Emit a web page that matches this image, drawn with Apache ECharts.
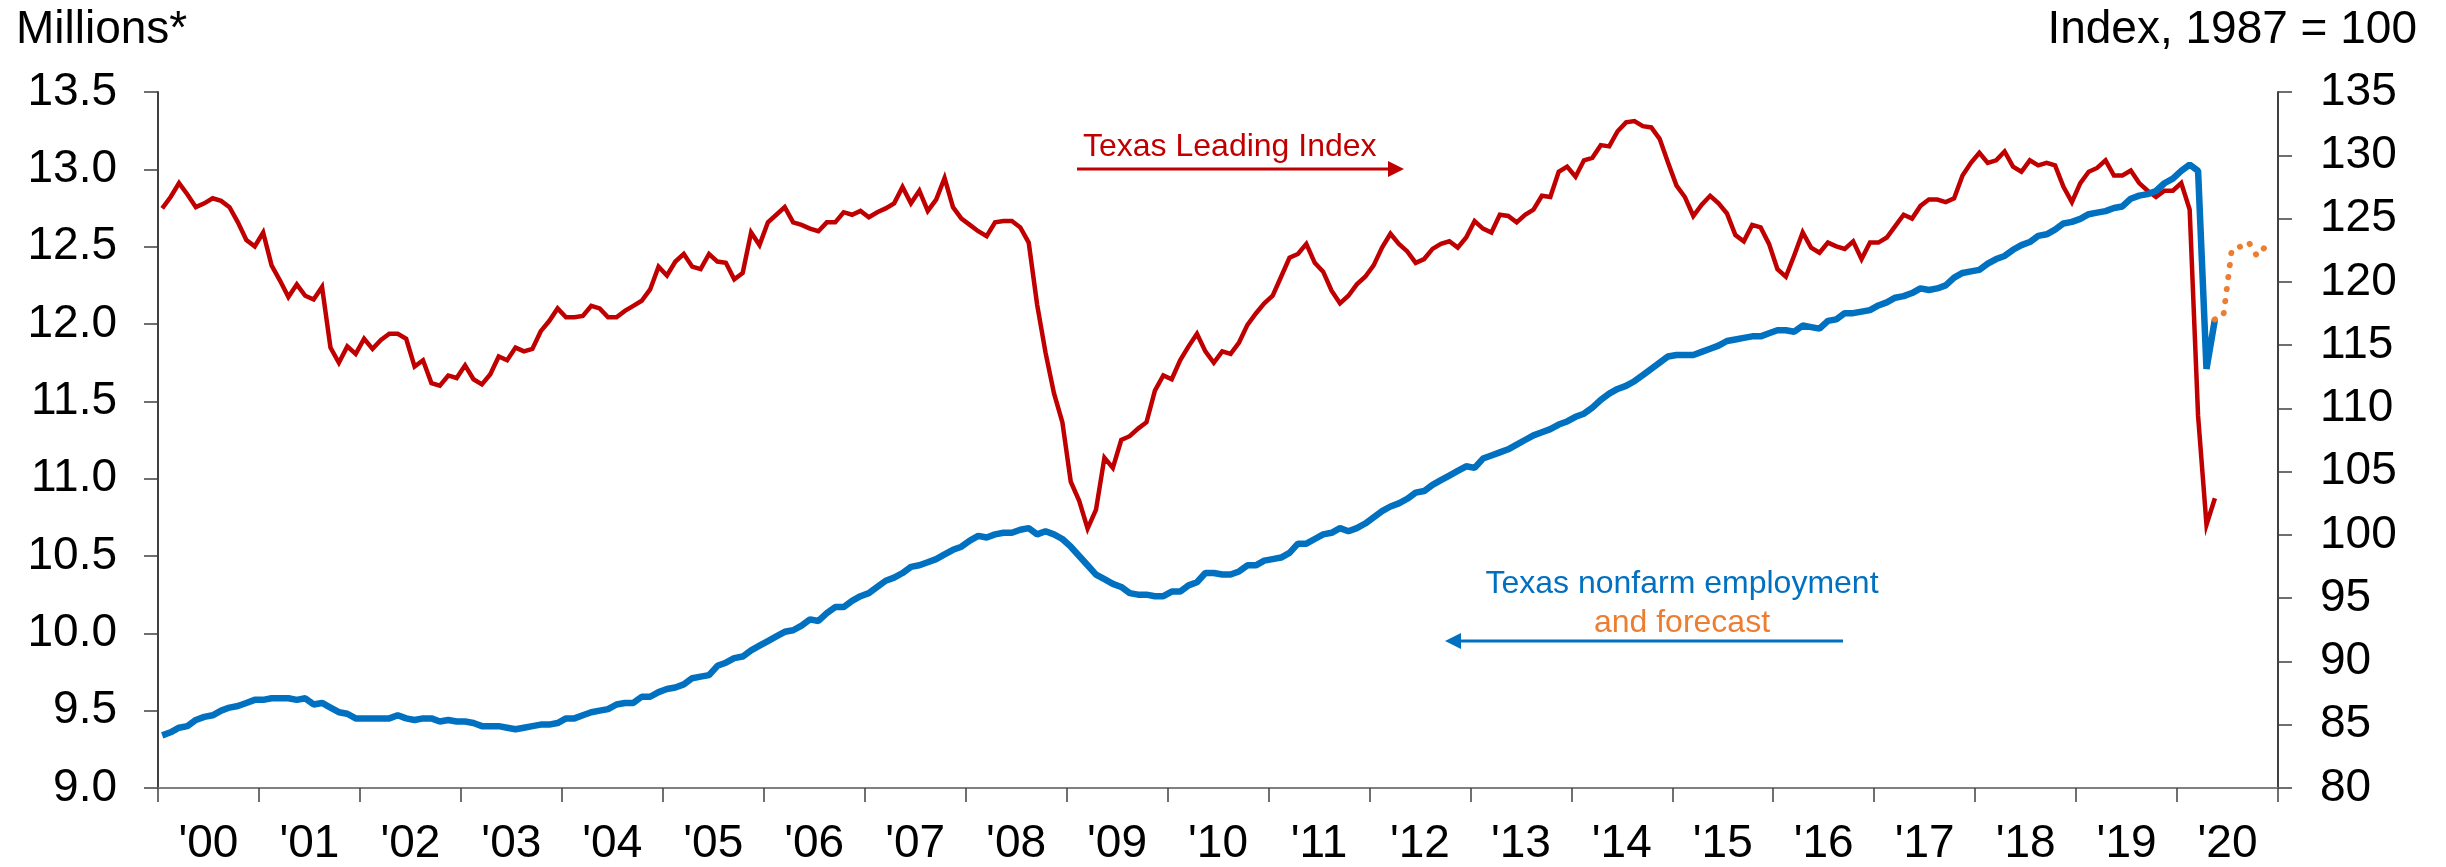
<!DOCTYPE html>
<html>
<head>
<meta charset="utf-8">
<title>Texas employment and leading index</title>
<script src="https://cdn.jsdelivr.net/npm/echarts@6.0.0/dist/echarts.min.js"></script>
<style>
  html, body { margin: 0; padding: 0; background: #fff; }
  #chart { width: 2446px; height: 867px; }
</style>
</head>
<body>
<div id="chart"></div>
<script>
// tick labels for the year axis
const yearLabels = ["'00", "'01", "'02", "'03", "'04", "'05", "'06", "'07", "'08", "'09", "'10",
  "'11", "'12", "'13", "'14", "'15", "'16", "'17", "'18", "'19", "'20"];

// monthly categories, Jan 2000 .. Dec 2020
const months = [];
for (let y = 2000; y <= 2020; y++) {
  for (let m = 1; m <= 12; m++) months.push(y + '-' + m);
}

// Texas Leading Index (right axis, 1987 = 100), Jan 2000 .. May 2020
const leadingIndex = [
  125.8, 126.7, 127.8, 126.9, 125.9, 126.2, 126.6, 126.4, 125.9, 124.7, 123.3, 122.8,
  123.9, 121.3, 120.1, 118.8, 119.8, 118.9, 118.6, 119.6, 114.8, 113.6, 114.9, 114.3,
  115.5, 114.7, 115.4, 115.9, 115.9, 115.5, 113.3, 113.8, 112.0, 111.8, 112.6, 112.4,
  113.4, 112.3, 111.9, 112.7, 114.1, 113.8, 114.8, 114.5, 114.7, 116.1, 116.9, 117.9,
  117.2, 117.2, 117.3, 118.1, 117.9, 117.2, 117.2, 117.7, 118.1, 118.5, 119.4, 121.2,
  120.5, 121.6, 122.2, 121.2, 121.0, 122.2, 121.6, 121.5, 120.2, 120.7, 123.9, 122.9,
  124.7, 125.3, 125.9, 124.7, 124.5, 124.2, 124.0, 124.7, 124.7, 125.5, 125.3, 125.6,
  125.1, 125.5, 125.8, 126.2, 127.5, 126.2, 127.2, 125.6, 126.5, 128.2, 125.9, 125.0,
  124.5, 124.0, 123.6, 124.7, 124.8, 124.8, 124.3, 123.1, 118.2, 114.4, 111.2, 108.9,
  104.2, 102.7, 100.5, 102.0, 106.1, 105.3, 107.5, 107.8, 108.4, 108.9, 111.4, 112.6,
  112.3, 113.8, 114.9, 115.9, 114.5, 113.6, 114.5, 114.3, 115.2, 116.6, 117.5, 118.3,
  118.9, 120.4, 121.9, 122.2, 123.0, 121.5, 120.8, 119.3, 118.3, 118.9, 119.8, 120.4,
  121.3, 122.7, 123.8, 123.0, 122.4, 121.5, 121.8, 122.6, 123.0, 123.2, 122.7, 123.5,
  124.8, 124.2, 123.9, 125.3, 125.2, 124.7, 125.3, 125.7, 126.8, 126.7, 128.7, 129.1,
  128.3, 129.6, 129.8, 130.8, 130.7, 131.9, 132.6, 132.7, 132.3, 132.2, 131.3, 129.4,
  127.6, 126.7, 125.2, 126.1, 126.8, 126.2, 125.4, 123.7, 123.2, 124.5, 124.3, 123.0,
  121.0, 120.4, 122.1, 123.9, 122.7, 122.3, 123.1, 122.8, 122.6, 123.2, 121.8, 123.1,
  123.1, 123.5, 124.4, 125.3, 125.0, 126.0, 126.5, 126.5, 126.3, 126.6, 128.4, 129.4,
  130.2, 129.4, 129.6, 130.3, 129.1, 128.7, 129.6, 129.2, 129.4, 129.2, 127.5, 126.3,
  127.8, 128.7, 129.0, 129.6, 128.4, 128.4, 128.8, 127.8, 127.2, 126.7, 127.2, 127.2,
  127.8, 125.7, 109.4, 100.8, 102.9
];

// Texas nonfarm employment, millions (left axis), Jan 2000 .. May 2020
const employment = [
  9.34, 9.36, 9.39, 9.40, 9.44, 9.46, 9.47, 9.50, 9.52, 9.53, 9.55, 9.57,
  9.57, 9.58, 9.58, 9.58, 9.57, 9.58, 9.54, 9.55, 9.52, 9.49, 9.48, 9.45,
  9.45, 9.45, 9.45, 9.45, 9.47, 9.45, 9.44, 9.45, 9.45, 9.43, 9.44, 9.43,
  9.43, 9.42, 9.40, 9.40, 9.40, 9.39, 9.38, 9.39, 9.40, 9.41, 9.41, 9.42,
  9.45, 9.45, 9.47, 9.49, 9.50, 9.51, 9.54, 9.55, 9.55, 9.59, 9.59, 9.62,
  9.64, 9.65, 9.67, 9.71, 9.72, 9.73, 9.79, 9.81, 9.84, 9.85, 9.89, 9.92,
  9.95, 9.98, 10.01, 10.02, 10.05, 10.09, 10.08, 10.13, 10.17, 10.17, 10.21, 10.24,
  10.26, 10.30, 10.34, 10.36, 10.39, 10.43, 10.44, 10.46, 10.48, 10.51, 10.54, 10.56,
  10.60, 10.63, 10.62, 10.64, 10.65, 10.65, 10.67, 10.68, 10.64, 10.66, 10.64, 10.61,
  10.56, 10.50, 10.44, 10.38, 10.35, 10.32, 10.30, 10.26, 10.25, 10.25, 10.24, 10.24,
  10.27, 10.27, 10.31, 10.33, 10.39, 10.39, 10.38, 10.38, 10.40, 10.44, 10.44, 10.47,
  10.48, 10.49, 10.52, 10.58, 10.58, 10.61, 10.64, 10.65, 10.68, 10.66, 10.68, 10.71,
  10.75, 10.79, 10.82, 10.84, 10.87, 10.91, 10.92, 10.96, 10.99, 11.02, 11.05, 11.08,
  11.07, 11.13, 11.15, 11.17, 11.19, 11.22, 11.25, 11.28, 11.30, 11.32, 11.35, 11.37,
  11.40, 11.42, 11.46, 11.51, 11.55, 11.58, 11.60, 11.63, 11.67, 11.71, 11.75, 11.79,
  11.80, 11.80, 11.80, 11.82, 11.84, 11.86, 11.89, 11.90, 11.91, 11.92, 11.92, 11.94,
  11.96, 11.96, 11.95, 11.99, 11.98, 11.97, 12.02, 12.03, 12.07, 12.07, 12.08, 12.09,
  12.12, 12.14, 12.17, 12.18, 12.20, 12.23, 12.22, 12.23, 12.25, 12.30, 12.33, 12.34,
  12.35, 12.39, 12.42, 12.44, 12.48, 12.51, 12.53, 12.57, 12.58, 12.61, 12.65, 12.66,
  12.68, 12.71, 12.72, 12.73, 12.75, 12.76, 12.81, 12.83, 12.84, 12.86, 12.91, 12.94,
  12.99, 13.03, 12.99, 11.71, 12.03
];

// employment forecast, May 2020 .. Nov 2020
const forecastStart = '2020-5';
const forecast = [12.03, 12.05, 12.48, 12.50, 12.53, 12.44, 12.50];

const forecastData = months.map(function () { return null; });
const fStart = months.indexOf(forecastStart);
forecast.forEach(function (v, k) { forecastData[fStart + k] = v; });

const FONT = '"Liberation Sans", Arial, sans-serif';
const RED = '#C00000';
const BLUE = '#0070C0';
const ORANGE = '#ED7D31';

const myChart = echarts.init(document.getElementById('chart'));

const option = {
  animation: false,
  backgroundColor: '#fff',
  grid: { left: 158, right: 168, top: 92, bottom: 78, containLabel: false },
  xAxis: [
    {
      type: 'category',
      data: months,
      boundaryGap: true,
      position: 'bottom',
      show: false
    },
    {
      type: 'category',
      data: yearLabels,
      boundaryGap: true,
      position: 'bottom',
      axisLine: { show: true, lineStyle: { color: '#808080', width: 2 } },
      axisTick: { show: true, length: 14, lineStyle: { color: '#404040', width: 1.5 } },
      axisLabel: { show: true, margin: 33, color: '#000', fontSize: 46, fontFamily: FONT, interval: 0 },
      splitLine: { show: false }
    }
  ],
  yAxis: [
    {
      type: 'value',
      position: 'left',
      min: 9, max: 13.5, interval: 0.5,
      axisLine: { show: true, lineStyle: { color: '#404040', width: 2 } },
      axisTick: { show: true, length: 14, lineStyle: { color: '#404040', width: 1.5 } },
      axisLabel: {
        margin: 41, color: '#000', fontSize: 46, fontFamily: FONT,
        formatter: function (v) { return v.toFixed(1); }
      },
      splitLine: { show: false }
    },
    {
      type: 'value',
      position: 'right',
      min: 80, max: 135, interval: 5,
      axisLine: { show: true, lineStyle: { color: '#404040', width: 2 } },
      axisTick: { show: true, length: 14, lineStyle: { color: '#404040', width: 1.5 } },
      axisLabel: { margin: 42, color: '#000', fontSize: 46, fontFamily: FONT },
      splitLine: { show: false }
    }
  ],
  series: [
    {
      name: 'Texas Leading Index',
      type: 'line',
      xAxisIndex: 0,
      yAxisIndex: 1,
      data: leadingIndex,
      symbol: 'none',
      lineStyle: { color: RED, width: 4.5, join: 'miter' },
      z: 2
    },
    {
      name: 'Texas nonfarm employment',
      type: 'line',
      xAxisIndex: 0,
      yAxisIndex: 0,
      data: employment,
      symbol: 'none',
      lineStyle: { color: BLUE, width: 6.5 },
      z: 3
    },
    {
      name: 'Forecast',
      type: 'line',
      xAxisIndex: 0,
      yAxisIndex: 0,
      data: forecastData,
      symbol: 'none',
      connectNulls: false,
      lineStyle: { color: ORANGE, width: 6, type: [0.1, 12], cap: 'round' },
      z: 4
    }
  ],
  graphic: [
    { type: 'text', left: 16, top: 7,
      style: { text: 'Millions*', fill: '#000', fontSize: 46, fontFamily: FONT } },
    { type: 'text', right: 29, top: 7,
      style: { text: 'Index, 1987 = 100', fill: '#000', fontSize: 46, fontFamily: FONT } },

    { type: 'text', x: 1083, y: 131,
      style: { text: 'Texas Leading Index', fill: RED, fontSize: 32, fontFamily: FONT, verticalAlign: 'top' } },
    { type: 'line', shape: { x1: 1077, y1: 169, x2: 1390, y2: 169 },
      style: { stroke: RED, lineWidth: 3 } },
    { type: 'polygon', shape: { points: [[1388, 161], [1404, 169], [1388, 177]] },
      style: { fill: RED } },

    { type: 'text', x: 1682, y: 568,
      style: { text: 'Texas nonfarm employment', fill: BLUE, fontSize: 32, fontFamily: FONT, align: 'center', verticalAlign: 'top' } },
    { type: 'text', x: 1682, y: 607,
      style: { text: 'and forecast', fill: ORANGE, fontSize: 32, fontFamily: FONT, align: 'center', verticalAlign: 'top' } },
    { type: 'line', shape: { x1: 1458, y1: 641, x2: 1843, y2: 641 },
      style: { stroke: BLUE, lineWidth: 3 } },
    { type: 'polygon', shape: { points: [[1445, 641], [1461, 633], [1461, 649]] },
      style: { fill: BLUE } }
  ]
};

myChart.setOption(option);
</script>
</body>
</html>
